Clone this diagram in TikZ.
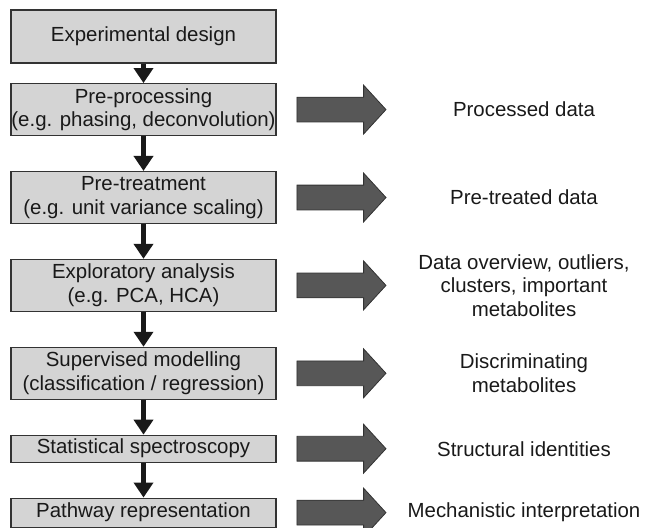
\documentclass[tikz,border=0pt]{standalone}
\usepackage{fontspec}
\setmainfont{Liberation Sans}
\usetikzlibrary{arrows.meta, positioning, shapes.arrows}

\tikzset{
  stage/.style={draw=black!80, line width=1.1bp, fill=black!17,
    minimum width=265bp, minimum height=52bp, inner sep=0pt,
    align=center, text=black!90},
  flow/.style={line width=4.5bp, black!90,
    -{Triangle[width=19bp, length=15bp]}},
  bigarrow/.style={single arrow, draw=black!80, fill=black!66,
    line width=0.8bp, inner xsep=0pt, inner ysep=12bp,
    minimum height=89bp, minimum width=48bp,
    single arrow head extend=12bp, single arrow tip angle=95},
  result/.style={align=center, text=black!90, inner sep=0pt},
}

\begin{document}
\begin{tikzpicture}[x=1bp, y=-1bp, node distance=34.8bp,
    font=\fontsize{20.5}{23.5}\selectfont]
  \useasboundingbox (0,0) rectangle (649,528);

  % Workflow stages
  \node[stage, minimum height=53bp] (design) at (143.5,36.5) {Experimental design};
  \node[stage, below=19.5bp of design] (preproc) {Pre-processing\\(e.g. phasing, deconvolution)};
  \node[stage, below=of preproc] (pretreat) {Pre-treatment\\(e.g. unit variance scaling)};
  \node[stage, below=of pretreat] (explore) {Exploratory analysis\\(e.g. PCA, HCA)};
  \node[stage, below=of explore] (superv) {Supervised modelling\\(classification / regression)};
  \node[stage, below=of superv, minimum height=27bp] (spectro) {Statistical spectroscopy};
  \node[stage, below=of spectro, minimum height=29bp] (pathway) {Pathway representation};

  \draw[flow] (design) -- (preproc);
  \draw[flow] (preproc) -- (pretreat);
  \draw[flow] (pretreat) -- (explore);
  \draw[flow] (explore) -- (superv);
  \draw[flow] (superv) -- (spectro);
  \draw[flow] (spectro) -- (pathway);

  % Outputs of each stage
  \coordinate (outcol) at (524,0);
  \foreach \s/\o/\t in {preproc/processed/{Processed data},
      pretreat/pretreated/{Pre-treated data},
      explore/overview/{Data overview, outliers,\\clusters, important\\metabolites},
      superv/discrim/{Discriminating\\metabolites},
      spectro/identity/{Structural identities},
      pathway/mechanism/{Mechanistic interpretation}} {
    \node[bigarrow, right=20bp of \s] (arr-\s) {};
    \node[result] (\o) at (outcol |- arr-\s.center) {\t};
  }
\end{tikzpicture}
\end{document}
